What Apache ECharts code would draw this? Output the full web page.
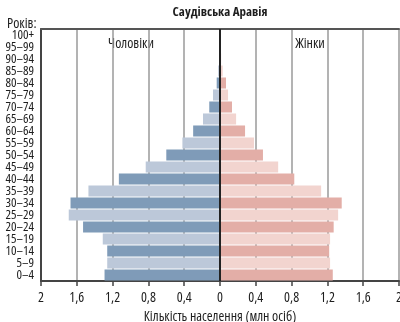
<!DOCTYPE html>
<html>
<head>
<meta charset="utf-8">
<script src="https://cdn.jsdelivr.net/npm/echarts@6/dist/echarts.min.js"></script>
<style>
  html, body { margin: 0; padding: 0; background: #fff; }
  #chart { width: 400px; height: 322px; }
</style>
</head>
<body>
<div id="chart"></div>
<script>
// Age groups, youngest first (bottom of the pyramid)
const ageGroups = ['0–4', '5–9', '10–14', '15–19', '20–24', '25–29', '30–34', '35–39',
  '40–44', '45–49', '50–54', '55–59', '60–64', '65–69', '70–74', '75–79', '80–84',
  '85–89', '90–94', '95–99', '100+'];

// Population, millions
const males = [1.29, 1.26, 1.26, 1.31, 1.53, 1.69, 1.67, 1.47, 1.13, 0.83, 0.60, 0.42,
  0.30, 0.19, 0.12, 0.078, 0.037, 0.02, 0.01, 0.005, 0.002];
const females = [1.26, 1.23, 1.22, 1.23, 1.27, 1.32, 1.36, 1.13, 0.83, 0.65, 0.48, 0.38,
  0.28, 0.18, 0.134, 0.09, 0.067, 0.03, 0.012, 0.006, 0.003];

const xTicks = { min: -2, max: 2, step: 0.4 };

// Narrow typeface: Open Sans at its condensed width
const FAMILY = "'Open Sans', sans-serif";
const STRETCH = 'condensed';
const TEXT = '#1e1e1e';
const maleColors = ['#7f9bb8', '#bcc8d9'];
const femaleColors = ['#e3aea7', '#f2d4cf'];

const fmt = v => {
  const a = Math.round(Math.abs(v) * 10) / 10;
  return String(a).replace('.', ',');
};

const chart = echarts.init(document.getElementById('chart'), null, { renderer: 'canvas' });

chart.setOption({
  animation: false,
  backgroundColor: '#fff',
  title: {
    text: 'Саудівська Аравія',
    left: 220, top: 6, textAlign: 'center', padding: 0,
    textStyle: { fontFamily: FAMILY, fontStyle: STRETCH, fontWeight: 'bold', fontSize: 13, color: TEXT }
  },
  grid: { left: 41, right: 1, top: 29, bottom: 41, containLabel: false, outerBoundsMode: 'none' },
  graphic: [
    { type: 'text', x: 7, y: 24, style: { text: 'Років:', font: STRETCH + ' normal 14px ' + FAMILY, fill: TEXT, textVerticalAlign: 'middle' } },
    { type: 'text', x: 131, y: 44, style: { text: 'Чоловіки', font: STRETCH + ' normal 14px ' + FAMILY, fill: TEXT, textAlign: 'center', textVerticalAlign: 'middle' } },
    { type: 'text', x: 310, y: 44, style: { text: 'Жінки', font: STRETCH + ' normal 14px ' + FAMILY, fill: TEXT, textAlign: 'center', textVerticalAlign: 'middle' } }
  ],
  xAxis: [{
    type: 'value',
    min: xTicks.min, max: xTicks.max, interval: xTicks.step,
    position: 'bottom',
    name: 'Кількість населення (млн осіб)',
    nameLocation: 'middle', nameGap: 27,
    nameTextStyle: { fontFamily: FAMILY, fontStyle: STRETCH, fontSize: 14, color: TEXT },
    axisLine: { show: true, onZero: false, lineStyle: { color: '#444', width: 2 } },
    axisTick: { show: true, length: 5, lineStyle: { color: '#444', width: 1.5 } },
    axisLabel: { formatter: fmt, fontFamily: FAMILY, fontStyle: STRETCH, fontSize: 14, color: TEXT, margin: 10 },
    splitLine: { show: true, lineStyle: { color: '#9a9a9a', width: 1.5 } }
  }, {
    type: 'value',
    min: xTicks.min, max: xTicks.max, interval: xTicks.step,
    position: 'top',
    axisLine: { show: true, onZero: false, lineStyle: { color: '#555', width: 2 } },
    axisTick: { show: false }, axisLabel: { show: false }, splitLine: { show: false }
  }],
  yAxis: {
    type: 'category',
    data: ageGroups,
    axisLine: { show: true, onZero: false, lineStyle: { color: '#444', width: 2 } },
    axisTick: { show: false },
    axisLabel: { fontFamily: FAMILY, fontStyle: STRETCH, fontSize: 13, color: TEXT, margin: 7, interval: 0 },
    splitLine: { show: false }
  },
  series: [{
    name: 'Чоловіки',
    type: 'bar',
    stack: 'pyramid',
    barCategoryGap: '8%',
    data: males.map((v, i) => ({ value: -v, itemStyle: { color: maleColors[i % 2] } })),
    markLine: {
      silent: true, symbol: 'none', label: { show: false },
      lineStyle: { color: '#222', width: 2, type: 'solid' },
      data: [{ xAxis: 0 }],
      z: 10
    }
  }, {
    name: 'Жінки',
    type: 'bar',
    stack: 'pyramid',
    barCategoryGap: '8%',
    data: females.map((v, i) => ({ value: v, itemStyle: { color: femaleColors[i % 2] } }))
  }]
});
</script>
</body>
</html>
